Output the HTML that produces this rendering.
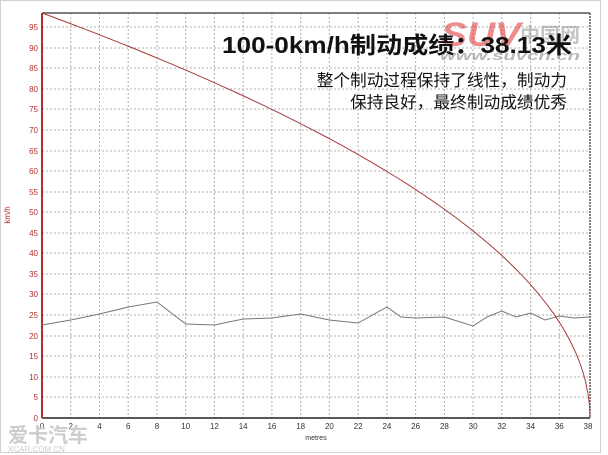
<!DOCTYPE html>
<html><head><meta charset="utf-8"><style>
html,body{margin:0;padding:0;background:#fff;}
svg{display:block;}
</style></head><body>
<svg width="608" height="455" xmlns="http://www.w3.org/2000/svg" font-family="Liberation Sans, sans-serif">
<rect x="0" y="0" width="608" height="455" fill="#fff"/>
<rect x="0.5" y="0.5" width="600" height="452" fill="none" stroke="#d0d0d0"/>
<g stroke="#b0b0b0" stroke-dasharray="2,2" stroke-width="1">
<line x1="70.7" y1="13" x2="70.7" y2="418"/><line x1="99.5" y1="13" x2="99.5" y2="418"/><line x1="128.2" y1="13" x2="128.2" y2="418"/><line x1="157" y1="13" x2="157" y2="418"/><line x1="185.7" y1="13" x2="185.7" y2="418"/><line x1="214.4" y1="13" x2="214.4" y2="418"/><line x1="243.2" y1="13" x2="243.2" y2="418"/><line x1="271.9" y1="13" x2="271.9" y2="418"/><line x1="300.7" y1="13" x2="300.7" y2="418"/><line x1="329.4" y1="13" x2="329.4" y2="418"/><line x1="358.1" y1="13" x2="358.1" y2="418"/><line x1="386.9" y1="13" x2="386.9" y2="418"/><line x1="415.6" y1="13" x2="415.6" y2="418"/><line x1="444.4" y1="13" x2="444.4" y2="418"/><line x1="473.1" y1="13" x2="473.1" y2="418"/><line x1="501.8" y1="13" x2="501.8" y2="418"/><line x1="530.6" y1="13" x2="530.6" y2="418"/><line x1="559.3" y1="13" x2="559.3" y2="418"/>
<line x1="42" y1="27" x2="590" y2="27"/><line x1="42" y1="48" x2="590" y2="48"/><line x1="42" y1="68" x2="590" y2="68"/><line x1="42" y1="89" x2="590" y2="89"/><line x1="42" y1="109" x2="590" y2="109"/><line x1="42" y1="130" x2="590" y2="130"/><line x1="42" y1="151" x2="590" y2="151"/><line x1="42" y1="171" x2="590" y2="171"/><line x1="42" y1="192" x2="590" y2="192"/><line x1="42" y1="212" x2="590" y2="212"/><line x1="42" y1="233" x2="590" y2="233"/><line x1="42" y1="253" x2="590" y2="253"/><line x1="42" y1="274" x2="590" y2="274"/><line x1="42" y1="294" x2="590" y2="294"/><line x1="42" y1="315" x2="590" y2="315"/><line x1="42" y1="336" x2="590" y2="336"/><line x1="42" y1="356" x2="590" y2="356"/><line x1="42" y1="377" x2="590" y2="377"/><line x1="42" y1="397" x2="590" y2="397"/>
</g>
<line x1="42" y1="13" x2="590" y2="13" stroke="#555" stroke-width="1.5"/>
<line x1="590" y1="13" x2="590" y2="418" stroke="#555" stroke-width="1.5" stroke-dasharray="2,1"/>
<line x1="42" y1="418" x2="590" y2="418" stroke="#222" stroke-width="1.5"/>
<line x1="42" y1="13" x2="42" y2="418" stroke="#b03030" stroke-width="2"/>
<g fill="#b03030" font-size="8" text-anchor="end">
<text x="38" y="30">95</text><text x="38" y="51">90</text><text x="38" y="71">85</text><text x="38" y="92">80</text><text x="38" y="112">75</text><text x="38" y="133">70</text><text x="38" y="154">65</text><text x="38" y="174">60</text><text x="38" y="195">55</text><text x="38" y="215">50</text><text x="38" y="236">45</text><text x="38" y="256">40</text><text x="38" y="277">35</text><text x="38" y="297">30</text><text x="38" y="318">25</text><text x="38" y="339">20</text><text x="38" y="359">15</text><text x="38" y="380">10</text><text x="38" y="400">5</text><text x="38" y="421">0</text>
</g>
<text x="10" y="215" font-size="8" fill="#b03030" transform="rotate(-90 10 215)" text-anchor="middle">km/h</text>
<g fill="#333" font-size="8" text-anchor="middle">
<text x="42" y="429">0</text><text x="70.7" y="429">2</text><text x="99.5" y="429">4</text><text x="128.2" y="429">6</text><text x="157" y="429">8</text><text x="185.7" y="429">10</text><text x="214.4" y="429">12</text><text x="243.2" y="429">14</text><text x="271.9" y="429">16</text><text x="300.7" y="429">18</text><text x="329.4" y="429">20</text><text x="358.1" y="429">22</text><text x="386.9" y="429">24</text><text x="415.6" y="429">26</text><text x="444.4" y="429">28</text><text x="473.1" y="429">30</text><text x="501.8" y="429">32</text><text x="530.6" y="429">34</text><text x="559.3" y="429">36</text><text x="588" y="429">38</text>
<text x="316" y="440" font-size="7">metres</text>
</g>
<polyline fill="none" stroke="#777" stroke-width="1" points="42,325 70.7,320 99.5,314 128.2,307 157,302 185.7,324 214.4,325 243.2,319 271.9,318 300.7,314 315,317 329.4,320 358.1,323 386.9,307 401,317 415.6,318 444.4,317 473.1,326 487,317 501.8,311 516,317 530.6,313 545,320 559.3,316 574,318 590,317"/>
<polyline id="spd" fill="none" stroke="#a83a3a" stroke-width="1" points=""/>
<script>
var p=[];for(var i=0;i<=200;i++){var x=38.13*(1-Math.pow(1-i/200,2));var v=98.4*Math.sqrt(Math.max(0,1-x/38.13));p.push((42+14.37*x).toFixed(1)+","+(418-4.116*v).toFixed(1));}
document.getElementById('spd').setAttribute('points',p.join(' '));
</script>
<text x="441" y="46" font-size="34" font-weight="bold" fill="#e04040" fill-opacity="0.6" font-style="italic" textLength="80" lengthAdjust="spacingAndGlyphs">SUV</text>
<text x="520" y="42" font-size="20" font-weight="bold" fill="#888" fill-opacity="0.5" font-family="Liberation Sans, Noto Sans CJK SC, sans-serif">中国网</text>
<text x="440" y="60" font-size="13" font-weight="bold" fill="#888" fill-opacity="0.6" font-style="italic" textLength="140" lengthAdjust="spacingAndGlyphs">www.suvcn.cn</text>
<text x="222" y="53" font-size="23" font-weight="bold" fill="#111" font-family="Liberation Sans, Noto Sans CJK SC, sans-serif" textLength="350" lengthAdjust="spacingAndGlyphs">100-0km/h制动成绩：38.13米</text>
<text x="567" y="86" font-size="16.7" fill="#111" text-anchor="end" font-family="Liberation Sans, Noto Sans CJK SC, sans-serif">整个制动过程保持了线性，制动力</text>
<text x="567" y="108" font-size="16.7" fill="#111" text-anchor="end" font-family="Liberation Sans, Noto Sans CJK SC, sans-serif">保持良好，最终制动成绩优秀</text>
<text x="8" y="442" font-size="20" font-weight="bold" fill="#ccc" font-family="Liberation Sans, Noto Sans CJK SC, sans-serif">爱卡汽车</text>
<text x="8" y="452" font-size="8" fill="#ccc">XCAR.COM.CN</text>
</svg>
</body></html>
